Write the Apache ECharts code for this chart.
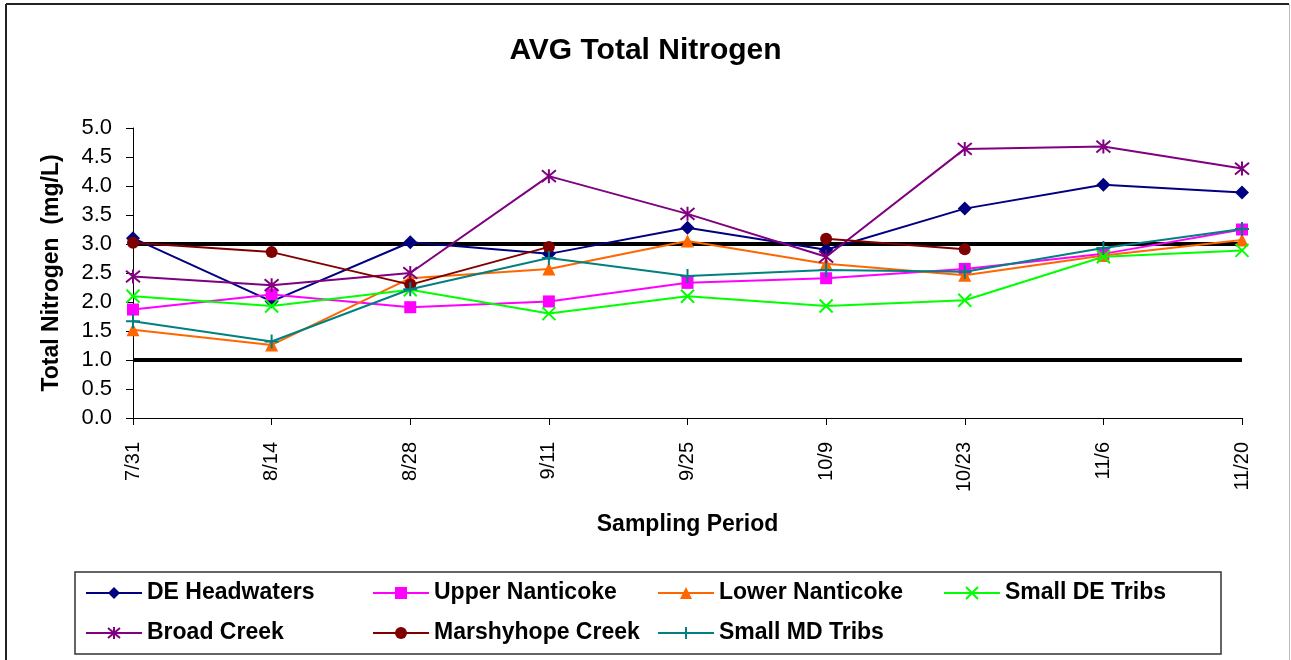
<!DOCTYPE html>
<html>
<head>
<meta charset="utf-8">
<script src="https://cdn.jsdelivr.net/npm/echarts@6/dist/echarts.min.js"></script>
<style>
html,body{margin:0;padding:0;background:#fff;}
#chart{width:1291px;height:660px;}
</style>
</head>
<body>
<div id="chart"></div>
<script>
var categories = ['7/31','8/14','8/28','9/11','9/25','10/9','10/23','11/6','11/20'];
var deHeadwaters   = [3.10, 2.01, 3.03, 2.83, 3.28, 2.90, 3.61, 4.02, 3.89];
var upperNanticoke = [1.87, 2.13, 1.91, 2.01, 2.33, 2.41, 2.57, 2.83, 3.25];
var lowerNanticoke = [1.52, 1.26, 2.41, 2.57, 3.05, 2.66, 2.46, 2.80, 3.07];
var smallDETribs   = [2.10, 1.93, 2.21, 1.80, 2.10, 1.93, 2.03, 2.78, 2.89];
var broadCreek     = [2.44, 2.29, 2.50, 4.17, 3.52, 2.78, 4.64, 4.68, 4.30];
var marshyhope     = [3.02, 2.86, 2.30, 2.95, null, 3.09, 2.91, null, null];
var smallMDTribs   = [1.67, 1.32, 2.22, 2.76, 2.45, 2.55, 2.52, 2.93, 3.26];
var upperLimit     = [3, 3, 3, 3, 3, 3, 3, 3, 3];
var lowerLimit     = [1, 1, 1, 1, 1, 1, 1, 1, 1];

var FONT = "'Liberation Sans', Arial, sans-serif";
var X_PATH = 'path://M0,0L10,10M10,0L0,10';
var STAR_PATH = 'path://M0,0L10,10M10,0L0,10M5,-1L5,11';
var PLUS_PATH = 'path://M5,0L5,10M0,5L10,5';

var seriesDefs = [
  {name:'DE Headwaters', data:deHeadwaters, color:'#000080', symbol:'diamond', size:14},
  {name:'Upper Nanticoke', data:upperNanticoke, color:'#FF00FF', symbol:'rect', size:12},
  {name:'Lower Nanticoke', data:lowerNanticoke, color:'#FF6600', symbol:'triangle', size:13},
  {name:'Small DE Tribs', data:smallDETribs, color:'#00FF00', symbol:X_PATH, size:13, stroke:true},
  {name:'Broad Creek', data:broadCreek, color:'#800080', symbol:STAR_PATH, size:14, stroke:true},
  {name:'Marshyhope Creek', data:marshyhope, color:'#800000', symbol:'circle', size:12},
  {name:'Small MD Tribs', data:smallMDTribs, color:'#008080', symbol:PLUS_PATH, size:14, stroke:true}
];

var series = [
  {name:'limit3', type:'line', data:upperLimit, symbol:'none', silent:true, z:1,
   lineStyle:{color:'#000', width:4}, itemStyle:{color:'#000'}},
  {name:'limit1', type:'line', data:lowerLimit, symbol:'none', silent:true, z:1,
   lineStyle:{color:'#000', width:4}, itemStyle:{color:'#000'}}
];
seriesDefs.forEach(function(d, i){
  series.push({
    name:d.name, type:'line', data:d.data, symbol:d.symbol, symbolSize:d.size,
    showAllSymbol:true, connectNulls:false, z:2+i,
    lineStyle:{color:d.color, width:2},
    itemStyle: d.stroke ? {color:d.color, borderColor:d.color, borderWidth:2} : {color:d.color, borderWidth:0},
    emphasis:{disabled:true}
  });
});

var cols = [85, 372, 657, 943];
var rows = [593, 633];
var legends = seriesDefs.map(function(d, i){
  return {
    data:[d.name], left: cols[i % 4], top: rows[Math.floor(i / 4)] - 13,
    orient:'horizontal', padding:0, itemWidth:56, itemHeight:15, selectedMode:false,
    textStyle:{fontFamily:FONT, fontSize:23, fontWeight:'bold', color:'#000', lineHeight:26}
  };
});

var chart = echarts.init(document.getElementById('chart'), null, {renderer:'canvas'});
chart.setOption({
  backgroundColor:'#fff',
  animation:false,
  title:{
    text:'AVG Total Nitrogen', left:'center', top:31,
    textStyle:{fontFamily:FONT, fontSize:30, fontWeight:'bold', color:'#000'}
  },
  legend: legends,
  grid:{left:133, right:49, top:128, bottom:242, containLabel:false},
  xAxis:{
    type:'category', data:categories, boundaryGap:false,
    name:'Sampling Period', nameLocation:'middle', nameGap:95,
    nameTextStyle:{fontFamily:FONT, fontSize:23, fontWeight:'bold', color:'#000'},
    axisLine:{lineStyle:{color:'#000', width:1}},
    axisTick:{show:true, length:7, lineStyle:{color:'#000'}},
    axisLabel:{rotate:90, margin:24, fontFamily:FONT, fontSize:20, color:'#000', interval:0},
    splitLine:{show:false}
  },
  yAxis:{
    type:'value', min:0, max:5, interval:0.5,
    name:'Total Nitrogen  (mg/L)', nameLocation:'middle', nameGap:70,
    nameTextStyle:{fontFamily:FONT, fontSize:23, fontWeight:'bold', color:'#000'},
    axisLine:{show:true, lineStyle:{color:'#000', width:1}},
    axisTick:{show:true, length:7, lineStyle:{color:'#000'}},
    axisLabel:{margin:21, fontFamily:FONT, fontSize:22, color:'#000',
      formatter:function(v){return v.toFixed(1);}},
    splitLine:{show:false}
  },
  graphic:[
    {type:'line', shape:{x1:6, y1:4, x2:1289, y2:4}, style:{stroke:'#222', lineWidth:2}, silent:true},
    {type:'line', shape:{x1:6, y1:4, x2:6, y2:660}, style:{stroke:'#222', lineWidth:2}, silent:true},
    {type:'line', shape:{x1:1289.5, y1:4, x2:1289.5, y2:660}, style:{stroke:'#bbb', lineWidth:1}, silent:true},
    {type:'rect', shape:{x:75, y:572, width:1146, height:82}, style:{fill:'none', stroke:'#333', lineWidth:1.5}, silent:true, z:-1}
  ],
  series: series
});
</script>
</body>
</html>
